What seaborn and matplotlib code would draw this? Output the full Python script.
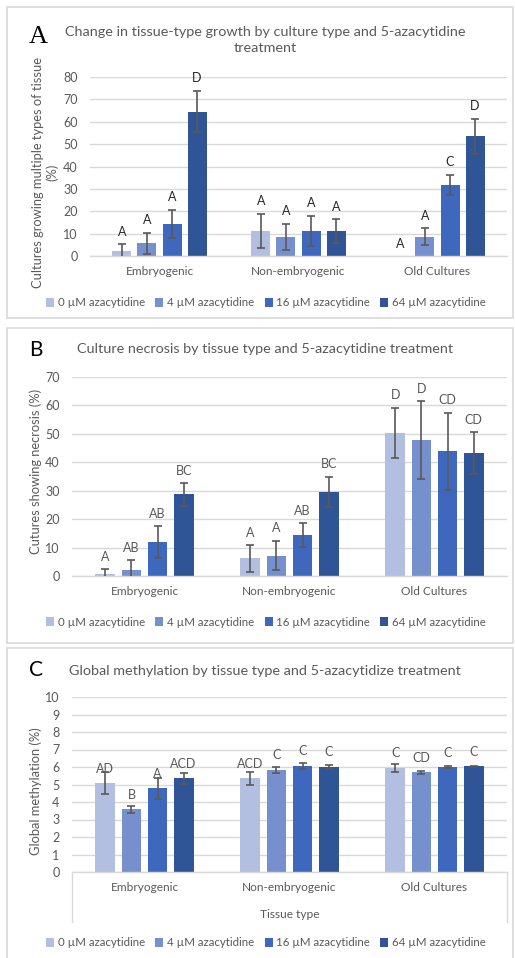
import numpy as np
import pandas as pd
import matplotlib
matplotlib.use("Agg")
import matplotlib.pyplot as plt
import seaborn as sns
from matplotlib.patches import Rectangle
from matplotlib.lines import Line2D
from matplotlib.container import BarContainer

# ---- data -------------------------------------------------------------
tissues = ["Embryogenic", "Non-embryogenic", "Old Cultures"]
doses = ["0 µM azacytidine", "4 µM azacytidine", "16 µM azacytidine", "64 µM azacytidine"]

# A: cultures growing multiple tissue types (%)
growth_mean = [[2.2, 5.6, 14.3, 64.5],
               [11.2, 8.6, 11.2, 11.2],
               [0.0, 8.7, 31.8, 53.5]]
growth_err = [[3.1, 4.7, 6.3, 9.3],
              [7.7, 5.8, 6.7, 5.3],
              [0.0, 3.8, 4.5, 7.9]]
growth_letters = [["A", "A", "A", "D"],
                  ["A", "A", "A", "A"],
                  ["A", "A", "C", "D"]]

# B: cultures showing necrosis (%)
necrosis_mean = [[0.7, 2.2, 11.9, 28.7],
                 [6.2, 7.2, 14.4, 29.6],
                 [50.4, 47.8, 43.9, 43.2]]
necrosis_err = [[1.7, 3.4, 5.6, 4.0],
                [4.7, 5.2, 4.1, 5.4],
                [8.8, 13.7, 13.6, 7.4]]
necrosis_letters = [["A", "AB", "AB", "BC"],
                    ["A", "A", "AB", "BC"],
                    ["D", "D", "CD", "CD"]]

# C: global methylation (%)
methyl_mean = [[5.07, 3.58, 4.79, 5.35],
               [5.35, 5.83, 6.06, 6.02],
               [5.95, 5.70, 5.99, 6.03]]
methyl_err = [[0.62, 0.18, 0.60, 0.30],
              [0.36, 0.18, 0.19, 0.12],
              [0.21, 0.10, 0.04, 0.03]]
methyl_letters = [["AD", "B", "A", "ACD"],
                  ["ACD", "C", "C", "C"],
                  ["C", "CD", "C", "C"]]

palette = ["#b3bfe1", "#7590cd", "#3e68bd", "#2f5597"]

# ---- figure setup -----------------------------------------------------
W, H = 515, 958
sns.set_theme(style="white")
plt.rcParams["font.family"] = ["Lato", "DejaVu Sans"]
GREY = "#595959"
GRID = "#d9d9d9"

fig = plt.figure(figsize=(W / 100, H / 100), dpi=100)
fig.patch.set_facecolor("white")


def fx(x):
    return x / W


def fy(y):
    return 1 - y / H


def axes_px(x0, y0, x1, y1):
    return fig.add_axes([fx(x0), fy(y1), (x1 - x0) / W, (y1 - y0) / H])


def frame(x0, y0, x1, y1):
    fig.add_artist(Rectangle((fx(x0), fy(y1)), (x1 - x0) / W, (y1 - y0) / H,
                             transform=fig.transFigure, fill=False,
                             edgecolor=GRID, lw=1.2))


def long_table(mean, err, letters):
    rows = []
    for i, t in enumerate(tissues):
        for j, d in enumerate(doses):
            rows.append({"tissue": t, "dose": d, "value": mean[i][j],
                         "err": err[i][j], "letter": letters[i][j]})
    return pd.DataFrame(rows)


def panel(ax, df, ymax, ystep, letter_color, label_mode, label_off):
    sns.barplot(data=df, x="tissue", y="value", hue="dose", order=tissues,
                hue_order=doses, palette=palette, width=0.72, gap=0.24,
                errorbar=None, saturation=1, linewidth=0, legend=False, ax=ax)
    bar_groups = [c for c in ax.containers if isinstance(c, BarContainer)]
    for h, cont in enumerate(bar_groups):
        for bar in cont.patches:
            cx = bar.get_x() + bar.get_width() / 2
            ti = int(round(cx))
            row = df[(df.tissue == tissues[ti]) & (df.dose == doses[h])].iloc[0]
            if row.err > 0:
                ax.errorbar(cx, row.value, yerr=row.err, fmt="none",
                            ecolor=GREY, elinewidth=1.2, capsize=3,
                            capthick=1.2, zorder=5)
            base = row.value + row.err if label_mode == "err" else row.value
            ax.annotate(row.letter, (cx, base), xytext=(0, label_off),
                        textcoords="offset points", ha="center", va="center",
                        fontsize=9, color=letter_color, zorder=6,
                        annotation_clip=False)
    ax.set_ylim(0, ymax)
    ax.set_xlim(-0.5, 2.5)
    ax.set_yticks(np.arange(0, ymax + ystep / 2, ystep))
    ax.yaxis.grid(True, color=GRID, lw=1)
    ax.set_axisbelow(True)
    for s in ["top", "right", "left"]:
        ax.spines[s].set_visible(False)
    ax.spines["bottom"].set_color(GRID)
    ax.spines["bottom"].set_linewidth(1)
    ax.tick_params(axis="both", length=0, labelcolor=GREY)
    ax.tick_params(axis="y", pad=9, labelsize=9)
    ax.tick_params(axis="x", pad=7, labelsize=8.6)
    ax.set_xlabel("")
    ax.set_ylabel("")
    ax.set_facecolor("white")


def ylabel(text, xc, yc):
    fig.text(fx(xc), fy(yc), text, rotation=90, ha="center", va="center",
             multialignment="center", fontsize=9.3, color=GREY,
             linespacing=1.15)


def legend(yc):
    handles = [Rectangle((0, 0), 1, 1, facecolor=c, edgecolor="none") for c in palette]
    fig.legend(handles, doses, loc="center", bbox_to_anchor=(fx(266), fy(yc)),
               ncol=4, frameon=False, fontsize=8.3, handlelength=0.7,
               handleheight=0.7, handletextpad=0.3, columnspacing=0.9,
               labelcolor=GREY, borderpad=0, borderaxespad=0)


# ---- panel A ----------------------------------------------------------
frame(7, 7, 513, 318)
axA = axes_px(90, 77, 507, 256)
panel(axA, long_table(growth_mean, growth_err, growth_letters), 80, 10,
      "#262626", "err", 9)
ylabel("Cultures growing multiple types of tissue\n(%)", 45, 172)
fig.text(fx(265), fy(40), "Change in tissue-type growth by culture type and 5-azacytidine\ntreatment",
         ha="center", va="center", fontsize=10.4, color=GREY, linespacing=1.45)
fig.text(fx(38), fy(37), "A", ha="center", va="center", fontsize=19,
         family=["Liberation Serif", "DejaVu Serif"], color="black")
legend(303)

# ---- panel B ----------------------------------------------------------
frame(7, 328, 513, 643)
axB = axes_px(72, 377, 507, 576)
panel(axB, long_table(necrosis_mean, necrosis_err, necrosis_letters), 70, 10,
      GREY, "err", 9)
ylabel("Cutures showing necrosis (%)", 36, 471)
fig.text(fx(265), fy(349), "Culture necrosis by tissue type and 5-azacytidine treatment",
         ha="center", va="center", fontsize=10.4, color=GREY)
fig.text(fx(36), fy(350), "B", ha="center", va="center", fontsize=15, color="black")
legend(622)

# ---- panel C ----------------------------------------------------------
frame(7, 648, 513, 962)
axC = axes_px(72, 697, 507, 872)
panel(axC, long_table(methyl_mean, methyl_err, methyl_letters), 10, 1,
      GREY, "mean", 10.5)
ylabel("Global methylation (%)", 36, 791)
fig.text(fx(290), fy(915), "Tissue type", ha="center", va="center",
         fontsize=8.6, color=GREY)
for xb in (72, 507):
    fig.add_artist(Line2D([fx(xb), fx(xb)], [fy(872), fy(922)],
                          transform=fig.transFigure, color=GRID, lw=1))
fig.text(fx(265), fy(671), "Global methylation by tissue type and 5-azacytidize treatment",
         ha="center", va="center", fontsize=10.4, color=GREY)
fig.text(fx(36), fy(670), "C", ha="center", va="center", fontsize=15, color="black")
legend(943)

fig.savefig("out.png", dpi=100, facecolor="white")
